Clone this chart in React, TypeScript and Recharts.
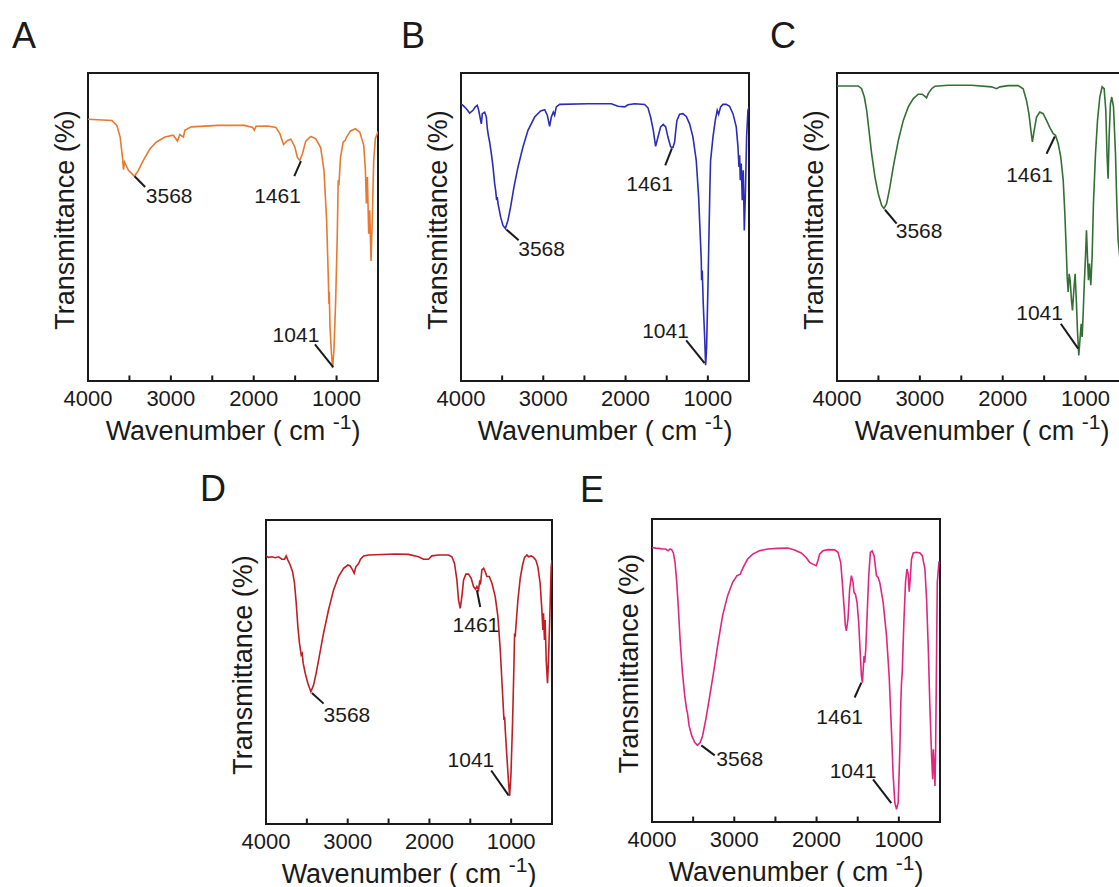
import React from "react";
import { LineChart, Line, XAxis, YAxis, ReferenceArea, ReferenceLine, ReferenceDot } from "recharts";

type Pt = [number, number];
type Note = { text: string; line: [Pt, Pt]; at: Pt };

const FONT = '"Liberation Sans", Arial, Helvetica, sans-serif';
const INK = "#1a1a1a";
const Y_AXIS_W = 60;
const X_AXIS_H = 72;
const PAD = 3;
const TICK_LEN = 1.8; // inward tick length, in transmittance units

const waveTicks = [4000, 3500, 3000, 2500, 2000, 1500, 1000, 500];

// [wavenumber, transmittance]
const spectrumA: Pt[] = [
  [4000, 85.0], [3712, 84.6], [3652, 83.0], [3612, 79.2], [3584, 72.7], [3572, 68.6], [3560, 71.1],
  [3512, 68.4], [3440, 66.5], [3392, 68.4], [3332, 71.6], [3252, 75.4], [3172, 77.6], [3072, 79.2],
  [2972, 79.8], [2920, 77.9], [2892, 80.0], [2848, 79.2], [2832, 81.4], [2752, 82.5], [2432, 83.0],
  [2112, 83.0], [2012, 82.3], [1992, 81.4], [1972, 82.7], [1832, 82.8], [1732, 82.3], [1684, 80.3],
  [1640, 76.8], [1592, 78.1], [1552, 78.5], [1504, 76.0], [1472, 72.5], [1444, 71.6], [1412, 73.8],
  [1372, 77.9], [1312, 79.4], [1252, 78.7], [1192, 75.8], [1152, 68.4], [1120, 52.2], [1100, 33.8],
  [1092, 25.0], [1088, 29.0], [1080, 18.0], [1062, 9.0], [1048, 4.2], [1032, 10.0], [1012, 25.1],
  [992, 46.8], [980, 65.2], [972, 63.5], [952, 72.7], [920, 77.6], [896, 78.1], [880, 79.2],
  [832, 81.2], [772, 81.9], [720, 80.8], [672, 76.5], [652, 68.4], [640, 57.6], [628, 66.2],
  [612, 47.8], [600, 55.4], [584, 39.0], [568, 53.2], [552, 71.6], [532, 78.7], [512, 80.1], [500, 81.0],
];

const spectrumB: Pt[] = [
  [4000, 90.0], [3976, 89.5], [3935, 88.4], [3895, 87.0], [3854, 87.9], [3826, 89.0], [3802, 89.5],
  [3785, 87.9], [3753, 83.5], [3741, 86.8], [3712, 87.3], [3692, 85.7], [3680, 81.9], [3664, 79.2],
  [3652, 77.6], [3631, 73.8], [3611, 69.5], [3591, 64.1], [3579, 61.9], [3567, 58.7], [3559, 59.7],
  [3550, 57.6], [3518, 53.2], [3490, 50.5], [3461, 49.5], [3429, 52.2], [3397, 56.5], [3356, 63.0],
  [3307, 69.5], [3247, 76.0], [3186, 81.4], [3105, 85.7], [3032, 87.7], [2983, 88.1], [2951, 86.3],
  [2923, 82.7], [2902, 85.7], [2878, 87.3], [2862, 86.3], [2842, 89.0], [2801, 89.8], [2457, 90.0],
  [2173, 90.0], [2092, 89.2], [2011, 89.0], [1971, 89.7], [1890, 90.0], [1768, 89.8], [1728, 88.7],
  [1696, 85.7], [1663, 81.4], [1635, 76.2], [1606, 79.2], [1574, 82.5], [1542, 83.3], [1513, 82.5],
  [1485, 79.2], [1452, 76.0], [1424, 75.8], [1404, 77.6], [1392, 80.8], [1376, 84.6], [1343, 86.6],
  [1303, 86.8], [1262, 85.9], [1222, 83.5], [1181, 79.2], [1141, 71.6], [1112, 59.7], [1092, 46.8],
  [1080, 39.2], [1076, 32.7], [1068, 35.9], [1056, 25.1], [1039, 14.3], [1027, 5.1], [1015, 11.0],
  [999, 30.5], [987, 46.8], [975, 63.0], [967, 71.6], [959, 73.6], [938, 79.2], [910, 84.6],
  [886, 87.9], [869, 86.6], [845, 89.0], [817, 89.8], [776, 89.8], [736, 89.2], [695, 86.8],
  [655, 82.5], [634, 76.0], [622, 69.5], [614, 73.3], [606, 65.2], [594, 70.6], [582, 58.7],
  [570, 68.4], [557, 48.9], [545, 59.7], [529, 79.2], [513, 87.9], [500, 89.0],
];

const spectrumC: Pt[] = [
  [4000, 95.8], [3743, 95.8], [3703, 94.9], [3670, 92.2], [3642, 87.9], [3614, 81.4], [3582, 73.8],
  [3542, 66.2], [3502, 60.8], [3461, 57.0], [3433, 56.0], [3401, 57.6], [3361, 63.0], [3321, 69.5],
  [3260, 78.1], [3200, 84.6], [3140, 89.0], [3079, 91.7], [3019, 93.1], [2971, 93.1], [2939, 92.4],
  [2919, 91.9], [2899, 93.3], [2858, 94.9], [2818, 95.7], [2657, 96.0], [2376, 96.0], [2135, 95.5],
  [2074, 94.9], [2034, 95.5], [1934, 95.9], [1813, 95.9], [1753, 94.9], [1713, 91.1], [1684, 86.8],
  [1660, 81.4], [1642, 77.6], [1620, 81.4], [1592, 85.7], [1552, 87.3], [1512, 86.8], [1471, 84.6],
  [1431, 82.3], [1391, 80.3], [1363, 79.8], [1331, 77.1], [1299, 72.7], [1270, 65.2], [1250, 54.3],
  [1230, 40.3], [1222, 33.8], [1210, 28.9], [1198, 34.8], [1186, 32.7], [1170, 26.2], [1158, 22.9],
  [1142, 29.4], [1126, 34.8], [1110, 25.1], [1098, 16.5], [1082, 8.3], [1065, 14.3], [1053, 18.6],
  [1041, 14.3], [1029, 21.9], [1017, 30.5], [1001, 40.3], [989, 48.9], [977, 40.3], [965, 32.7],
  [953, 38.1], [937, 31.1], [921, 40.3], [905, 57.6], [880, 73.8], [856, 84.6], [828, 92.2],
  [800, 95.5], [776, 94.9], [756, 87.9], [740, 72.7], [728, 65.7], [716, 79.2], [700, 90.0],
  [684, 92.2], [663, 89.0], [639, 73.8], [623, 57.6], [607, 45.7], [587, 40.3], [559, 44.8],
  [535, 68.4], [500, 84.6],
];

const spectrumD: Pt[] = [
  [4000, 88.2], [3969, 87.7], [3928, 87.9], [3887, 87.6], [3847, 87.9], [3806, 87.1], [3773, 87.1],
  [3753, 88.2], [3732, 86.8], [3704, 85.2], [3675, 83.0], [3651, 79.2], [3630, 72.6], [3610, 64.9],
  [3590, 59.4], [3569, 55.6], [3557, 56.1], [3545, 52.9], [3520, 49.6], [3488, 46.3], [3451, 43.5],
  [3418, 45.7], [3386, 49.6], [3349, 55.0], [3296, 62.7], [3235, 70.4], [3173, 77.0], [3112, 81.4],
  [3051, 84.1], [2998, 85.2], [2970, 84.9], [2941, 83.6], [2921, 82.5], [2900, 84.6], [2867, 85.7],
  [2843, 87.1], [2806, 88.2], [2745, 88.5], [2419, 88.8], [2256, 88.7], [2134, 87.9], [2072, 87.1],
  [2011, 87.1], [1971, 88.2], [1889, 88.5], [1767, 88.5], [1725, 87.9], [1693, 85.7], [1664, 80.3],
  [1644, 73.7], [1623, 70.9], [1603, 74.8], [1582, 80.3], [1554, 82.2], [1521, 82.2], [1489, 80.8],
  [1460, 78.1], [1436, 77.2], [1419, 78.1], [1399, 77.0], [1386, 79.7], [1374, 79.2], [1358, 83.6],
  [1337, 84.1], [1317, 83.0], [1297, 81.4], [1268, 81.4], [1235, 79.2], [1195, 74.8], [1162, 68.2],
  [1133, 57.2], [1105, 43.0], [1088, 34.2], [1080, 35.3], [1072, 30.9], [1052, 22.1], [1031, 13.4],
  [1019, 9.2], [1003, 15.6], [983, 33.1], [966, 51.8], [958, 62.7], [950, 61.6], [942, 64.9],
  [917, 73.7], [889, 80.8], [860, 85.2], [836, 87.7], [807, 88.5], [787, 87.9], [755, 88.2],
  [726, 87.7], [698, 86.8], [673, 84.6], [645, 79.2], [624, 70.4], [612, 63.8], [604, 69.3],
  [592, 60.5], [584, 67.1], [571, 53.9], [555, 46.3], [543, 53.9], [527, 68.2], [510, 84.6], [500, 86.8],
];

const spectrumE: Pt[] = [
  [4000, 90.6], [3955, 90.4], [3915, 90.3], [3874, 90.1], [3833, 90.1], [3805, 89.5], [3780, 90.1],
  [3760, 89.8], [3740, 88.8], [3720, 85.7], [3699, 79.1], [3679, 70.3], [3659, 60.4], [3630, 49.3],
  [3602, 41.6], [3577, 36.7], [3569, 36.1], [3549, 31.7], [3516, 28.4], [3480, 26.2], [3447, 25.3],
  [3415, 26.2], [3386, 28.4], [3346, 33.9], [3305, 40.5], [3252, 49.3], [3203, 58.1], [3142, 68.1],
  [3081, 74.7], [3020, 79.1], [2967, 81.3], [2927, 81.8], [2911, 82.9], [2878, 84.8], [2837, 86.8],
  [2776, 88.4], [2695, 89.5], [2593, 90.1], [2472, 90.3], [2350, 90.4], [2268, 89.8], [2187, 88.8],
  [2126, 87.3], [2085, 85.7], [2045, 85.1], [2004, 84.6], [1984, 86.2], [1963, 88.4], [1923, 89.5],
  [1862, 89.9], [1781, 89.8], [1740, 89.0], [1707, 85.7], [1687, 79.1], [1667, 71.4], [1650, 64.8],
  [1638, 63.1], [1618, 67.0], [1598, 76.9], [1577, 81.3], [1557, 79.1], [1545, 75.8], [1528, 75.2],
  [1508, 72.5], [1488, 65.9], [1472, 57.0], [1455, 48.2], [1443, 46.0], [1431, 51.5], [1423, 54.8],
  [1415, 52.6], [1402, 57.0], [1386, 68.1], [1366, 81.3], [1346, 89.0], [1325, 89.5], [1301, 87.9],
  [1272, 81.3], [1252, 80.7], [1232, 79.1], [1191, 72.5], [1150, 61.5], [1118, 48.2], [1089, 29.5],
  [1069, 15.2], [1049, 6.4], [1028, 4.2], [1008, 6.4], [988, 24.0], [976, 39.4], [968, 46.0],
  [959, 49.3], [939, 65.9], [919, 79.1], [902, 83.5], [886, 81.8], [874, 76.0], [862, 80.2],
  [846, 86.8], [825, 88.8], [785, 89.0], [744, 88.8], [715, 87.9], [683, 83.5], [663, 73.6],
  [642, 57.0], [622, 37.2], [602, 21.8], [589, 14.1], [581, 24.0], [569, 17.4], [561, 11.9],
  [553, 24.0], [541, 57.0], [533, 79.1], [512, 86.0],
];

// peak callouts: leader line (from, to) and label anchor, in data units
const notesA: Note[] = [
  { text: "3568", line: [[3438, 66.5], [3310, 63.0]], at: [3020, 57.7] },
  { text: "1461", line: [[1430, 71.4], [1510, 66.5]], at: [1713, 57.7] },
  { text: "1041", line: [[1261, 11.9], [1041, 4.5]], at: [1490, 12.6] },
];
const notesB: Note[] = [
  { text: "3568", line: [[3449, 49.2], [3299, 45.7]], at: [3020, 40.5] },
  { text: "1461", line: [[1437, 75.5], [1518, 70.0]], at: [1708, 61.6] },
  { text: "1041", line: [[1263, 13.2], [1040, 5.8]], at: [1514, 13.9] },
];
const notesC: Note[] = [
  { text: "3568", line: [[3421, 55.6], [3280, 51.1]], at: [3009, 46.3] },
  { text: "1461", line: [[1371, 79.4], [1471, 73.8]], at: [1676, 64.6] },
  { text: "1041", line: [[1299, 18.6], [1089, 10.5]], at: [1555, 19.7] },
];
const notesD: Note[] = [
  { text: "3568", line: [[3438, 43.1], [3295, 39.6]], at: [3010, 33.5] },
  { text: "1461", line: [[1419, 76.9], [1378, 71.4]], at: [1431, 63.2] },
  { text: "1041", line: [[1244, 17.6], [1031, 9.4]], at: [1492, 18.7] },
];
const notesE: Note[] = [
  { text: "3568", line: [[3401, 25.3], [3238, 22.0]], at: [2934, 18.5] },
  { text: "1461", line: [[1456, 46.0], [1537, 41.1]], at: [1719, 32.3] },
  { text: "1041", line: [[1314, 14.1], [1092, 6.2]], at: [1557, 14.6] },
];

type Box = { left: number; top: number; width: number; height: number };
type PanelDef = { letter: string; tag: [number, number]; color: string; box: Box; spectrum: Pt[]; notes: Note[] };

const panels: PanelDef[] = [
  { letter: "A", tag: [12, 18], color: "#e8792f", box: { left: 88, top: 73, width: 290, height: 308 }, spectrum: spectrumA, notes: notesA },
  { letter: "B", tag: [401, 18], color: "#2b2db8", box: { left: 461, top: 73, width: 288, height: 308 }, spectrum: spectrumB, notes: notesB },
  { letter: "C", tag: [770, 18], color: "#347034", box: { left: 837, top: 73, width: 290, height: 308 }, spectrum: spectrumC, notes: notesC },
  { letter: "D", tag: [200, 471], color: "#be1e24", box: { left: 266, top: 520, width: 286, height: 304 }, spectrum: spectrumD, notes: notesD },
  { letter: "E", tag: [580, 472], color: "#e0267f", box: { left: 652, top: 519, width: 288, height: 303 }, spectrum: spectrumE, notes: notesE },
];

function WaveTick(props: any) {
  const { x, y, payload } = props;
  const v = payload.value;
  if (v % 1000 !== 0) return <g />;
  return (
    <text x={x} y={y + 24.5} textAnchor="middle" fontSize={22} fontFamily={FONT} fill={INK}>
      {v}
    </text>
  );
}

function XTitle(props: any) {
  const vb = props.viewBox;
  const cx = vb.x + vb.width / 2;
  const by = vb.y + 58.5;
  return (
    <text x={cx} y={by} textAnchor="middle" fontSize={27} fontFamily={FONT} fill={INK}>
      Wavenumber ( cm <tspan fontSize={21} dy={-11}>-1</tspan>
      <tspan dy={11}>)</tspan>
    </text>
  );
}

function YTitle(props: any) {
  const vb = props.viewBox;
  const bx = vb.x + vb.width - 14;
  const cy = vb.y + vb.height / 2 - 7;
  return (
    <text x={bx} y={cy} transform={`rotate(-90, ${bx}, ${cy})`} textAnchor="middle" fontSize={27} fontFamily={FONT} fill={INK}>
      Transmittance (%)
    </text>
  );
}

function Panel({ letter, tag, color, box, spectrum, notes }: PanelDef) {
  const rows = spectrum.map(([w, t]) => ({ w, t }));
  return (
    <>
      <div
        style={{ position: "absolute", left: tag[0], top: tag[1], fontFamily: FONT, fontSize: 36, lineHeight: "36px", color: INK }}
      >
        {letter}
      </div>
      <div style={{ position: "absolute", left: box.left - Y_AXIS_W, top: box.top - PAD }}>
        <LineChart
          width={box.width + Y_AXIS_W + PAD}
          height={box.height + X_AXIS_H + PAD}
          data={rows}
          margin={{ top: PAD, right: PAD, left: 0, bottom: 0 }}
        >
          <XAxis
            dataKey="w"
            type="number"
            domain={[500, 4000]}
            reversed
            ticks={waveTicks}
            interval={0}
            allowDataOverflow
            axisLine={false}
            tickLine={false}
            tickSize={0}
            tickMargin={0}
            height={X_AXIS_H}
            tick={<WaveTick />}
            label={<XTitle />}
          />
          <YAxis type="number" domain={[0, 100]} width={Y_AXIS_W} tick={false} axisLine={false} tickLine={false} label={<YTitle />} />
          <Line type="linear" dataKey="t" stroke={color} strokeWidth={1.6} dot={false} isAnimationActive={false} />
          <ReferenceArea x1={500} x2={4000} y1={0} y2={100} fill="none" fillOpacity={0} stroke={INK} strokeWidth={2} />
          {waveTicks.map((w) => (
            <ReferenceLine
              key={`k${w}`}
              segment={[
                { x: w, y: 0 },
                { x: w, y: TICK_LEN },
              ]}
              stroke={INK}
              strokeWidth={2}
            />
          ))}
          {notes.map((n) => (
            <ReferenceLine
              key={`l${n.text}`}
              segment={[
                { x: n.line[0][0], y: n.line[0][1] },
                { x: n.line[1][0], y: n.line[1][1] },
              ]}
              stroke={INK}
              strokeWidth={2}
            />
          ))}
          {notes.map((n) => (
            <ReferenceDot
              key={`t${n.text}`}
              x={n.at[0]}
              y={n.at[1]}
              r={0}
              ifOverflow="visible"
              shape={(p: any) => (
                <text x={p.cx} y={p.cy} textAnchor="middle" fontSize={21} fontFamily={FONT} fill={INK}>
                  {n.text}
                </text>
              )}
            />
          ))}
        </LineChart>
      </div>
    </>
  );
}

export default function App() {
  return (
    <div
      style={{ position: "absolute", left: 0, top: 0, width: 1119, height: 887, overflow: "hidden", background: "#fff" }}
    >
      {panels.map((p) => (
        <Panel key={p.letter} {...p} />
      ))}
    </div>
  );
}
